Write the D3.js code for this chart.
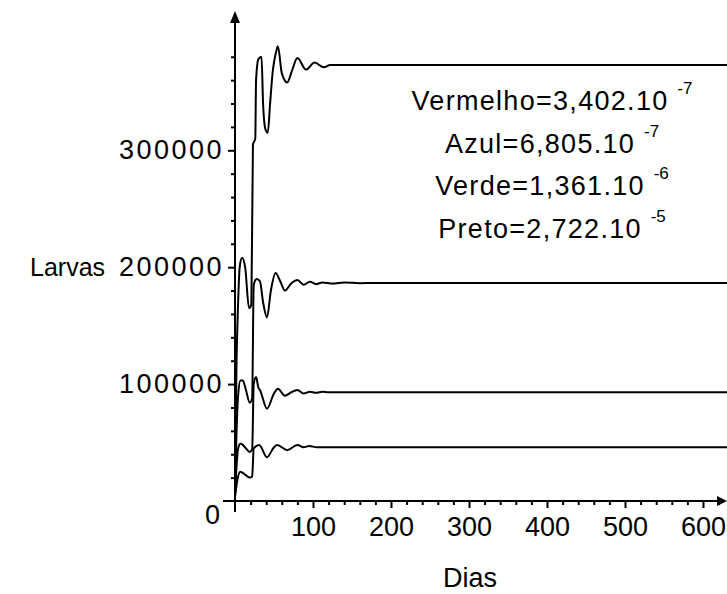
<!DOCTYPE html>
<html>
<head>
<meta charset="utf-8">
<script src="https://cdn.jsdelivr.net/npm/d3@7"></script>
<style>
    body { margin: 0; background: #fff; }
    svg text { font-family: "Liberation Sans", Arial, sans-serif; fill: #000; }
</style>
</head>
<body>
<div id="chart"></div>
<script>
// valores (dias, larvas)
var diasVermelho = [0, 2, 4, 6, 9, 13, 18, 21, 23, 26, 27, 30, 34, 36, 39, 42, 45, 48, 53, 55, 60, 67, 73, 80, 91, 102, 114, 122, 635];
var larvasVermelho = [20000, 120000, 170000, 200000, 208000, 200000, 165000, 168000, 305000, 310000, 360000, 378000, 380000, 340000, 318000, 315000, 340000, 365000, 385000, 389000, 366000, 358000, 368000, 379000, 369000, 375000, 371000, 373000, 373000];

var diasAzul = [0, 2, 4, 7, 10, 14, 19, 22, 24, 28, 32, 36, 41, 46, 52, 58, 64, 72, 80, 88, 96, 104, 112, 125, 140, 160, 175, 635];
var larvasAzul = [10000, 60000, 90000, 103000, 103000, 95000, 84000, 88000, 185000, 190000, 188000, 170000, 157000, 180000, 195000, 188000, 180000, 186000, 189000, 185000, 187500, 185500, 187000, 186000, 187000, 186300, 186500, 186500];

var diasVerde = [0, 2, 4, 7, 10, 14, 19, 22, 24, 27, 30, 32, 41, 50, 55, 64, 72, 80, 88, 96, 104, 112, 120, 635];
var larvasVerde = [5000, 30000, 45000, 49000, 48000, 45000, 42000, 44000, 100000, 106000, 97000, 95000, 79000, 92000, 96000, 90000, 93000, 95000, 92000, 93500, 92500, 93500, 93000, 93000];

var diasPreto = [0, 3, 7, 10, 14, 19, 22, 24, 31, 41, 50, 54, 67, 80, 88, 95, 105, 635];
var larvasPreto = [3000, 18000, 25000, 24000, 22000, 20000, 21000, 45000, 48000, 37500, 46000, 48000, 43500, 48000, 46000, 47000, 46000, 46000];

var xMajor = [100, 200, 300, 400, 500, 600];
var yMajor = [100000, 200000, 300000];
var legenda = ["Vermelho=3,402.10", "Azul=6,805.10", "Verde=1,361.10", "Preto=2,722.10"];
var expoentes = ["-7", "-7", "-6", "-5"];

var width = 727, height = 594;
var x0 = 235, y0 = 501;

var svg = d3.select("#chart").append("svg")
    .attr("width", width)
    .attr("height", height);

var xScale = d3.scaleLinear().domain([0, 630]).range([x0, 726.4]);
var yScale = d3.scaleLinear().domain([0, 420000]).range([y0, 10]);

var series = [
    { d: diasVermelho, v: larvasVermelho },
    { d: diasAzul, v: larvasAzul },
    { d: diasVerde, v: larvasVerde },
    { d: diasPreto, v: larvasPreto }
];

var lineGen = d3.line()
    .x(function (p) { return xScale(p[0]); })
    .y(function (p) { return yScale(p[1]); })
    .curve(d3.curveMonotoneX);

svg.append("g").attr("class", "lines")
    .selectAll("path")
    .data(series)
    .enter()
    .append("path")
    .attr("d", function (s) { return lineGen(d3.zip(s.d, s.v)); })
    .attr("fill", "none")
    .attr("stroke", "#000")
    .attr("stroke-width", 2);

// eixos
var xMinor = d3.range(20, 630, 20).filter(function (t) { return t % 100 !== 0; });
var yMinor = d3.range(20000, 400000, 20000).filter(function (t) { return t % 100000 !== 0; });

function styleAxis(spacing) {
    return function (g) {
        g.select(".domain").remove();
        g.selectAll(".tick line").attr("stroke", "#000").attr("stroke-width", 2);
        g.selectAll(".tick text")
            .attr("font-size", 27)
            .attr("font-family", null)
            .attr("letter-spacing", spacing)
            .attr("fill", "#000");
    };
}

svg.append("g")
    .attr("transform", "translate(0," + y0 + ")")
    .call(d3.axisBottom(xScale).tickValues(xMajor).tickSize(7).tickPadding(9))
    .call(styleAxis(0));

svg.append("g")
    .attr("transform", "translate(0," + y0 + ")")
    .call(d3.axisBottom(xScale).tickValues(xMinor).tickSize(4).tickFormat(""))
    .call(styleAxis(0));

svg.append("g")
    .attr("transform", "translate(" + x0 + ",0)")
    .call(d3.axisLeft(yScale).tickValues(yMajor).tickSize(7).tickPadding(4).tickFormat(d3.format("d")))
    .call(styleAxis(2.5));

svg.append("g")
    .attr("transform", "translate(" + x0 + ",0)")
    .call(d3.axisLeft(yScale).tickValues(yMinor).tickSize(4).tickFormat(""))
    .call(styleAxis(0));

// linhas dos eixos com setas
svg.append("line")
    .attr("x1", 223).attr("x2", 720)
    .attr("y1", y0).attr("y2", y0)
    .attr("stroke", "#000").attr("stroke-width", 2);
svg.append("line")
    .attr("x1", x0).attr("x2", x0)
    .attr("y1", y0 + 11).attr("y2", 20)
    .attr("stroke", "#000").attr("stroke-width", 2);
svg.append("path")
    .attr("d", "M727," + y0 + "L717," + (y0 - 5) + "L717," + (y0 + 5) + "Z")
    .attr("fill", "#000");
svg.append("path")
    .attr("d", "M" + x0 + ",11L" + (x0 - 5) + ",23L" + (x0 + 5) + ",23Z")
    .attr("fill", "#000");

svg.append("text")
    .attr("x", 220).attr("y", 524)
    .attr("text-anchor", "end")
    .attr("font-size", 27)
    .text("0");

svg.append("text")
    .attr("x", 470).attr("y", 587)
    .attr("text-anchor", "middle")
    .attr("font-size", 27)
    .text("Dias");

svg.append("text")
    .attr("x", 30).attr("y", yScale(200000) + 9)
    .attr("font-size", 25)
    .text("Larvas");

// legenda
var leg = svg.append("g").attr("class", "legend");
legenda.forEach(function (t, i) {
    var txt = leg.append("text")
        .attr("x", 552).attr("y", 110 + i * 42.5)
        .attr("text-anchor", "middle")
        .attr("font-size", 27)
        .attr("letter-spacing", 1.3);
    txt.append("tspan").text(t + " ");
    txt.append("tspan")
        .attr("font-size", 17)
        .attr("letter-spacing", 0)
        .attr("dy", -16)
        .text(expoentes[i]);
});
</script>
</body>
</html>
